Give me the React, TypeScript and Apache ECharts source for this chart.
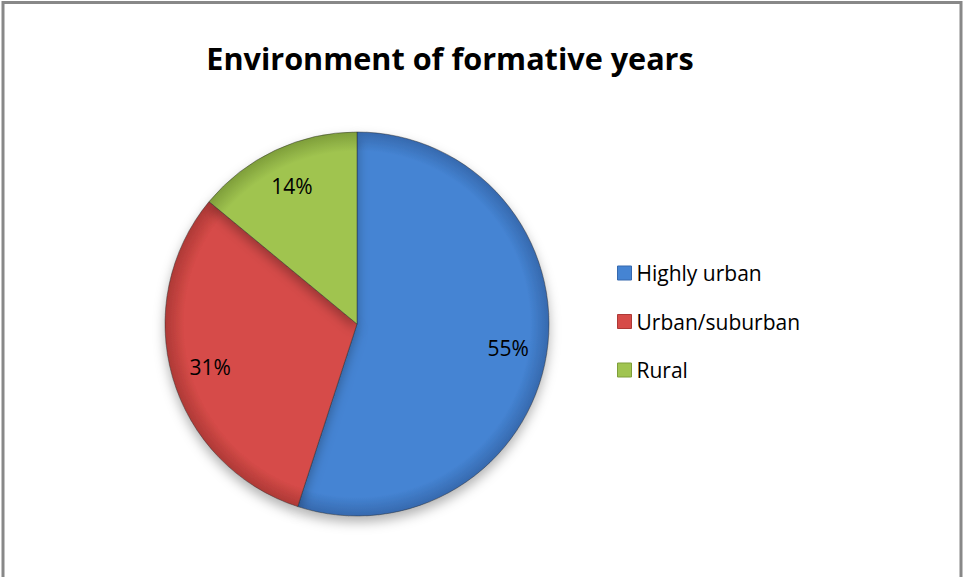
import React, { useEffect, useRef } from "react";
import * as echarts from "echarts";

const titleText = "Environment of formative years";
const categories = ["Highly urban", "Urban/suburban", "Rural"];
const values = [55, 31, 14];
const baseColors = ["#4584D3", "#D64B48", "#A0C450"];
const rimColors = ["#3669AE", "#AE3936", "#7E9E3A"];

export default function App() {
  const ref = useRef<HTMLDivElement>(null);
  useEffect(() => {
    if (!ref.current) return;
    const chart = echarts.init(ref.current, undefined, { renderer: "svg" });
    const mainData = categories.map((name, i) => ({
      name,
      value: values[i],
      itemStyle: {
        color: {
          type: "radial",
          x: 357,
          y: 324,
          r: 192,
          global: true,
          colorStops: [
            { offset: 0, color: baseColors[i] },
            { offset: 0.9, color: baseColors[i] },
            { offset: 1, color: rimColors[i] },
          ],
        },
      },
    }));
    const labelData = categories.map((name, i) => ({ name, value: values[i] }));
    chart.setOption({
      animation: false,
      backgroundColor: "#ffffff",
      title: {
        text: titleText,
        left: 445,
        textAlign: "center",
        top: 37,
        textStyle: {
          fontFamily: "Open Sans",
          fontWeight: "bold",
          fontSize: 30.6,
          color: "#000000",
        },
      },
      legend: {
        orient: "vertical",
        left: 612,
        top: 257,
        itemWidth: 14,
        itemHeight: 14,
        itemGap: 26.5,
        icon: "rect",
        data: categories.map((name, i) => ({
          name,
          itemStyle: { color: baseColors[i], borderColor: rimColors[i], borderWidth: 1 },
        })),
        textStyle: {
          fontFamily: "Open Sans",
          fontSize: 21,
          lineHeight: 22,
          color: "#000000",
        },
        selectedMode: false,
      },
      graphic: [
        {
          type: "rect",
          shape: { x: 3, y: 2.5, width: 958, height: 600 },
          style: { fill: "none", stroke: "#888888", lineWidth: 3 },
          z: 100,
        },
      ],
      series: [
        {
          type: "pie",
          center: [357, 324],
          radius: [0, 192],
          startAngle: 90,
          clockwise: true,
          label: { show: false },
          labelLine: { show: false },
          itemStyle: {
            borderColor: "rgba(40,40,40,0.45)",
            borderWidth: 1,
            shadowBlur: 12,
            shadowOffsetY: 6,
            shadowColor: "rgba(0,0,0,0.3)",
          },
          emphasis: { disabled: true },
          data: mainData,
        },
        {
          type: "pie",
          center: [357, 324],
          radius: [108, 192],
          startAngle: 90,
          clockwise: true,
          silent: true,
          itemStyle: { color: "rgba(0,0,0,0)", borderWidth: 0 },
          label: {
            show: true,
            position: "inside",
            formatter: "{c}%",
            fontFamily: "Open Sans",
            fontSize: 21,
            color: "#000000",
          },
          labelLine: { show: false },
          emphasis: { disabled: true },
          data: labelData,
        },
      ],
    });
    return () => chart.dispose();
  }, []);
  return (
    <div
      ref={ref}
      style={{ position: "fixed", left: 0, top: 0, width: 963, height: 577 }}
    />
  );
}
